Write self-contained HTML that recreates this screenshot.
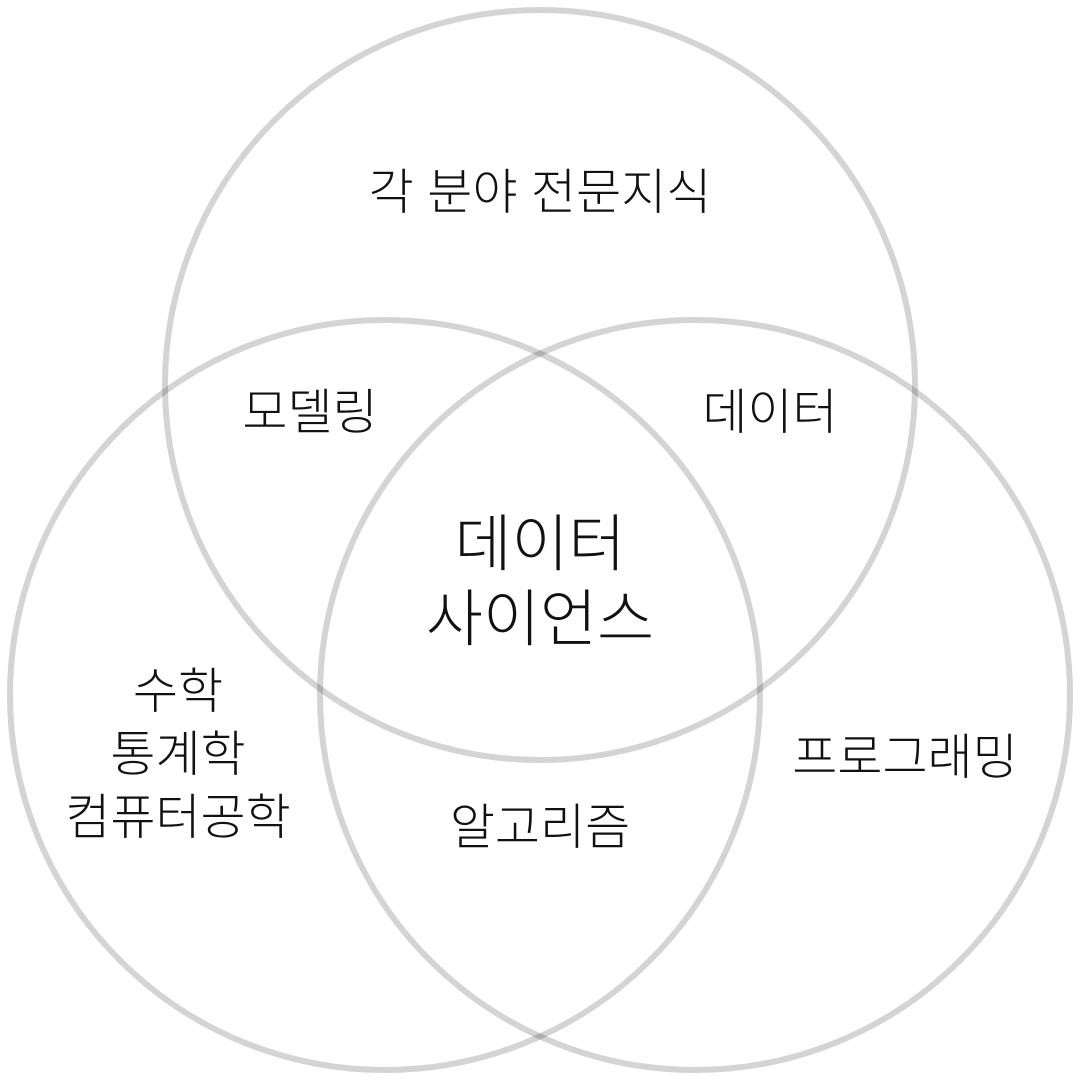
<!DOCTYPE html>
<html><head><meta charset="utf-8"><style>
html,body{margin:0;padding:0;background:#fff;}
svg{display:block}
text{font-family:"Liberation Sans","Noto Sans CJK KR",sans-serif;fill:#111;text-anchor:middle;dominant-baseline:central;font-weight:300;}
</style></head><body>
<svg width="1080" height="1080" viewBox="0 0 1080 1080">
<g fill="none" stroke="rgba(0,0,0,0.17)" stroke-width="6">
<circle cx="540" cy="385" r="375"/>
<circle cx="385" cy="695" r="375"/>
<circle cx="695" cy="695" r="375"/>
</g>
<text x="540" y="193" font-size="49">각 분야 전문지식</text>
<text x="310" y="413" font-size="49">모델링</text>
<text x="770" y="413" font-size="49">데이터</text>
<text x="540" y="545" font-size="62">데이터</text>
<text x="540" y="620" font-size="62">사이언스</text>
<text x="178" y="692" font-size="49">수학</text>
<text x="178" y="755" font-size="49">통계학</text>
<text x="178" y="818" font-size="49">컴퓨터공학</text>
<text x="905" y="758" font-size="49">프로그래밍</text>
<text x="540" y="828" font-size="49">알고리즘</text>
</svg>
</body></html>
